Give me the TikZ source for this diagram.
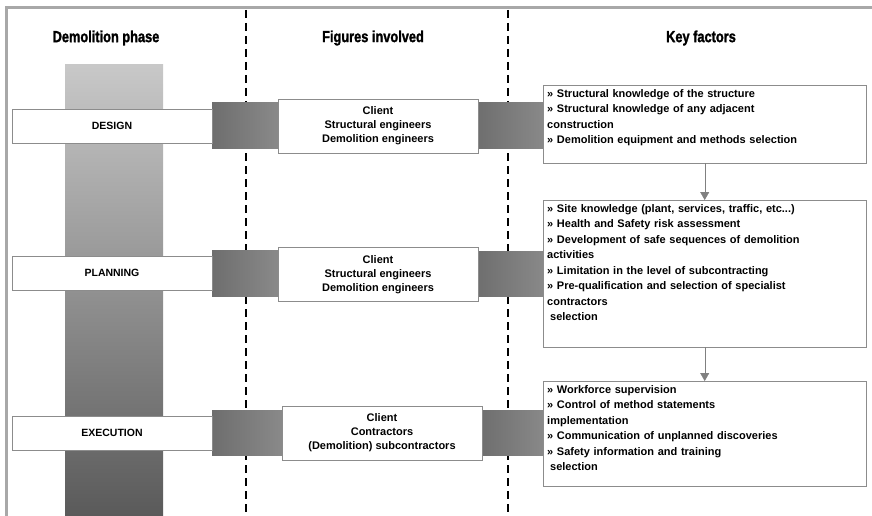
\documentclass[tikz,border=0pt]{standalone}
\usepackage{fontspec}
\setmainfont{Liberation Sans}
\newfontfamily\headfont{Liberation Sans}[FakeStretch=0.8, BoldFeatures={FakeBold=1.5}]
\usetikzlibrary{positioning,arrows.meta,backgrounds,calc}

\definecolor{framegray}{HTML}{A8A8A8}
\definecolor{linegray}{HTML}{8C8C8C}
\definecolor{barleft}{HTML}{6E6E6E}
\definecolor{barright}{HTML}{8A8A8A}
\definecolor{coltop}{HTML}{C8C8C8}
\definecolor{colbot}{HTML}{5A5A5A}

\begin{document}
\begin{tikzpicture}[x=1pt,y=-1pt]
  % Settings
  \tikzset{
    head/.style={font=\headfont\bfseries\fontsize{16}{18}\selectfont},
    phase/.style={draw=linegray, fill=white, minimum width=200pt, minimum height=34pt, font=\bfseries\fontsize{10.5}{12}\selectfont},
    fig/.style={draw=linegray, fill=white, minimum width=200pt, minimum height=54pt, align=center, font=\bfseries\fontsize{11}{14}\selectfont},
    key/.style={draw=linegray, fill=white, anchor=north west, text width=315pt, text height=8pt, align=left, inner sep=4pt, font=\bfseries\fontsize{11}{15.5}\selectfont},
    bar/.style={left color=barleft, right color=barright},
    column/.style={top color=coltop, bottom color=colbot},
    lane/.style={line width=1.2pt, dash pattern=on 8pt off 5pt},
    flow/.style={draw=gray, -{Triangle[width=9pt,length=8pt]}},
  }

  \useasboundingbox (0,0) rectangle (872,516);
  \draw[framegray, line width=3pt] (6,516) -- (6,8) -- (872,8);

  % Headers
  \node[head] (hphase) at (106,38) {Demolition phase};
  \node[head] (hfig) at (373,38) {Figures involved};
  \node[head] (hkey) at (701,38) {Key factors};

  % Phases
  \node[phase] (design) at (112,126) {DESIGN};
  \node[phase] (planning) at (112,273) {PLANNING};
  \node[phase] (execution) at (112,433) {EXECUTION};

  % Figures involved
  \node[fig] (figdesign) at (378,126) {Client\\Structural engineers\\Demolition engineers};
  \node[fig] (figplanning) at (378,274.5) {Client\\Structural engineers\\Demolition engineers};
  \node[fig] (figexecution) at (382,433) {Client\\Contractors\\(Demolition) subcontractors};

  % Key factors
  \node[key, text depth=62pt] (keydesign) at (543,85) {%
    » Structural knowledge of the structure\\
    » Structural knowledge of any adjacent\\
    construction\\
    » Demolition equipment and methods selection};
  \node[key, text depth=131pt] (keyplanning) at (543,200) {%
    » Site knowledge (plant, services, traffic, etc...)\\
    » Health and Safety risk assessment\\
    » Development of safe sequences of demolition\\
    activities\\
    » Limitation in the level of subcontracting\\
    » Pre-qualification and selection of specialist\\
    contractors\\
    \hspace{3pt}selection};
  \node[key, text depth=89pt] (keyexecution) at (543,381) {%
    » Workforce supervision\\
    » Control of method statements\\
    implementation\\
    » Communication of unplanned discoveries\\
    » Safety information and training\\
    \hspace{3pt}selection};

  % Arrows
  \draw[flow] (keydesign.south) -- (keyplanning.north);
  \draw[flow] (keyplanning.south) -- (keyexecution.north);

  % Column, lanes and bars
  \begin{scope}[on background layer]
    \shade[column] (65,65) rectangle (163,516);
    \draw[lane] (246,10) -- (246,516);
    \draw[lane] (508,10) -- (508,516);
    \foreach \p in {design,planning,execution} {
      \shade[bar] ($(\p.east)+(0,-23)$) rectangle ($(fig\p.west)+(2,22)$);
      \shade[bar] ($(fig\p.east)+(-2,-23)$) rectangle ($(fig\p.east -| key\p.west)+(4,22)$);
    }
  \end{scope}
\end{tikzpicture}
\end{document}
